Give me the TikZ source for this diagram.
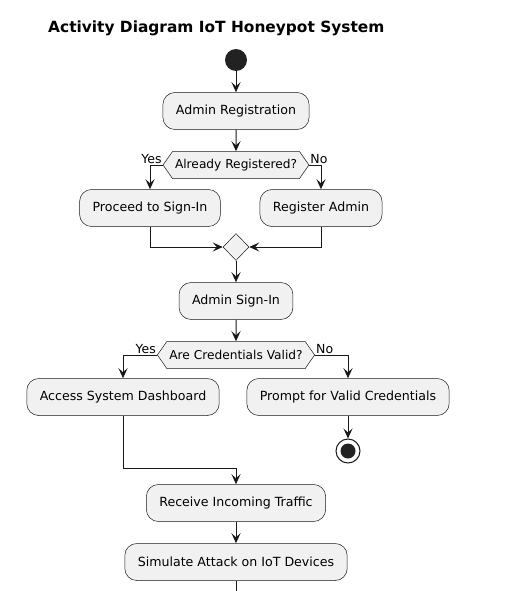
\documentclass[tikz,border=0pt]{standalone}
\usepackage{fontspec}
\setmainfont{DejaVu Sans}
\usetikzlibrary{positioning,shapes.symbols,shapes.geometric,arrows.meta}
\definecolor{plLine}{HTML}{181818}
\definecolor{plFill}{HTML}{F1F1F1}
\definecolor{plDot}{HTML}{222222}

\begin{document}
\begin{tikzpicture}
		[x=1pt, y=-1pt,
		act/.style={draw=plLine, line width=0.5pt, fill=plFill, rounded corners=12pt, minimum height=37pt, inner xsep=13pt, font=\fontsize{12.6}{15}\selectfont},
		ask/.style={draw=plLine, line width=0.5pt, fill=plFill, signal, signal to=west and east, signal pointer angle=110, minimum height=27pt, inner xsep=2.5pt, font=\fontsize{12.2}{14}\selectfont},
		flow/.style={draw=plLine, line width=1pt, -{Stealth[length=10pt, width=9pt, inset=4pt]}},
		lbl/.style={inner sep=1pt, font=\fontsize{12.5}{14}\selectfont}]
		\useasboundingbox (0,0) rectangle (510,591);
		\clip (0,0) rectangle (510,591);
		\node[anchor=base west, inner sep=0, font=\bfseries\fontsize{15.4}{18}\selectfont] (title) at (48,33) {Activity Diagram IoT Honeypot System};

		\node[circle, fill=plDot, minimum size=22pt, inner sep=0] (start) at (236,60) {};
		\node[act] (reg) at (236,111) {Admin Registration};
		\node[ask] (known) at (236,165) {Already Registered?};
		\node[lbl, anchor=south east] (yesA) at (known.west) {Yes};
		\node[lbl, anchor=south west] (noA) at (known.east) {No};
		\node[act] (proceed) at (150,208) {Proceed to Sign-In};
		\node[act] (newadm) at (321,208) {Register Admin};
		\node[diamond, draw=plLine, line width=0.5pt, fill=plFill, minimum width=26pt, minimum height=27pt, inner sep=0] (merge) at (236,247) {};
		\node[act] (signin) at (236,301) {Admin Sign-In};
		\node[ask] (valid) at (236,355) {Are Credentials Valid?};
		\node[lbl, anchor=south east] (yesB) at (valid.west) {Yes};
		\node[lbl, anchor=south west] (noB) at (valid.east) {No};
		\node[act] (dash) at (123,397) {Access System Dashboard};
		\node[act] (retry) at (348,397) {Prompt for Valid Credentials};
		\node[circle, draw=plLine, line width=1pt, fill=white, minimum size=24pt, inner sep=0] (stop) at (348,451) {};
		\node[circle, fill=plDot, minimum size=15pt, inner sep=0] (stopdot) at (stop) {};
		\coordinate (join) at (236,468);
		\node[act] (traffic) at (236,503) {Receive Incoming Traffic};
		\node[act] (attack) at (236,562) {Simulate Attack on IoT Devices};
		\coordinate (next) at (236,603);

		\draw[flow] (start) -- (reg);
		\draw[flow] (reg) -- (known);
		\draw[flow] (known.west) -| (proceed.north);
		\draw[flow] (known.east) -| (newadm.north);
		\draw[flow] (proceed.south) |- (merge.west);
		\draw[flow] (newadm.south) |- (merge.east);
		\draw[flow] (merge) -- (signin);
		\draw[flow] (signin) -- (valid);
		\draw[flow] (valid.west) -| (dash.north);
		\draw[flow] (valid.east) -| (retry.north);
		\draw[flow] (retry) -- (stop);
		\draw[flow] (dash.south) |- (join) -- (traffic.north);
		\draw[flow] (traffic) -- (attack);
		\draw[flow] (attack) -- (next);
	\end{tikzpicture}
\end{document}
